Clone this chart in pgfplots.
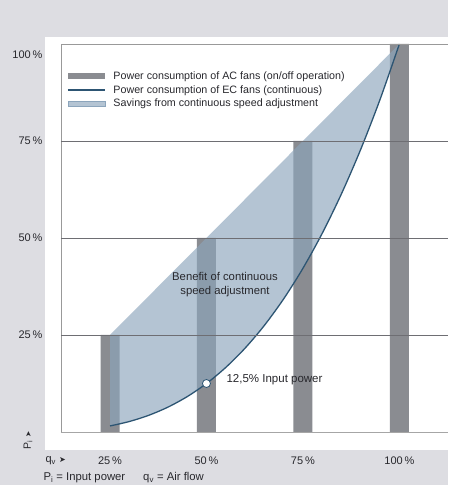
\documentclass[border=0pt]{standalone}
\usepackage{pgfplots}
\pgfplotsset{compat=1.18}
\usepackage{fontspec}
\setmainfont{Liberation Sans}
\newfontfamily\symfont{DejaVu Sans}
\definecolor{bggray}{RGB}{221,221,226}
\definecolor{barcol}{RGB}{138,140,145}
\definecolor{areacol}{RGB}{140,165,188}
\definecolor{curvecol}{RGB}{45,85,115}
\definecolor{gridcol}{RGB}{110,110,115}
\definecolor{txtcol}{RGB}{40,40,45}
\begin{document}
\begin{tikzpicture}[x=1pt,y=1pt]
\fill[bggray] (0,0) rectangle (448,485);
\fill[white] (45,35) rectangle (448,448);
\begin{axis}[
  at={(61pt,53pt)}, anchor=south west,
  scale only axis, width=387pt, height=388pt,
  xmin=12.3, xmax=112.6, ymin=0, ymax=100,
  axis line style={draw=none},
  major tick length=0pt,
  xtick={25,50,75,100},
  xticklabels={25\,\%,50\,\%,75\,\%,100\,\%},
  ytick={25,50,75},
  yticklabels={25\,\%,50\,\%,75\,\%},
  extra y ticks={100},
  extra y tick labels={100\,\%},
  extra y tick style={yticklabel style={yshift=-11pt}, grid=none},
  ymajorgrids, grid style={gridcol, line width=0.6pt},
  yticklabel style={font=\fontsize{11}{12}\selectfont, text=txtcol, xshift=-15pt},
  xticklabel style={font=\fontsize{11}{12}\selectfont, text=txtcol, yshift=-21pt},
  axis on top,
  legend style={at={(rel axis cs:0.013,0.937)}, anchor=north west, draw=none, fill=none,
    font=\fontsize{10.7}{12}\selectfont, text=txtcol, row sep=0.5pt, inner sep=1pt},
  legend cell align=left,
]
\addplot[ybar, bar width=19pt, fill=barcol, draw=none,
  legend image code/.code={\fill[barcol] (0pt,-2.8pt) rectangle (37pt,2.8pt);\path (43pt,0pt);}]
  coordinates {(25,25) (50,50) (75,75) (100,100)};
\addlegendentry{Power consumption of AC fans (on/off operation)}
\addplot[fill=areacol, fill opacity=0.65, draw=none, forget plot]
  coordinates {(25,25) (100,100) (95,85.7375) (90,72.9) (85,61.4125) (80,51.2) (75,42.1875)
   (70,34.3) (65,27.4625) (60,21.6) (55,16.6375) (50,12.5) (45,9.1125) (40,6.4) (35,4.2875)
   (30,2.7) (25,1.5625)} -- cycle;
\addplot[curvecol, line width=1.3pt, smooth,
  legend image code/.code={\draw[curvecol, line width=1.2pt] (0pt,0pt) -- (37pt,0pt);\path (43pt,0pt);}]
  coordinates {(25,1.5625) (30,2.7) (35,4.2875) (40,6.4) (45,9.1125) (50,12.5) (55,16.6375)
   (60,21.6) (65,27.4625) (70,34.3) (75,42.1875) (80,51.2) (85,61.4125) (90,72.9)
   (95,85.7375) (100,100)};
\addlegendentry{Power consumption of EC fans (continuous)}
\addlegendimage{legend image code/.code={\fill[areacol, fill opacity=0.65] (0pt,-2.8pt) rectangle (37pt,2.8pt);\path (43pt,0pt);}}
\addlegendentry{Savings from continuous speed adjustment}
\addplot[only marks, mark=*, mark size=4pt, mark options={fill=white, draw=curvecol, line width=0.8pt}]
  coordinates {(50,12.5)};
\node[font=\fontsize{11.3}{14}\selectfont, text=txtcol, align=center] at (axis cs:54.8,38.0)
  {Benefit of continuous\\speed adjustment};
\node[font=\fontsize{11.5}{13}\selectfont, text=txtcol, anchor=west] at (axis cs:54.3,13.4)
  {12,5\% Input power};
\draw[gray!80, line width=0.6pt] (rel axis cs:0,0) -- (rel axis cs:0,1) -- (rel axis cs:1,1);
\draw[gray!70, line width=1pt] (rel axis cs:0,0) -- (rel axis cs:1,0);
\end{axis}
\node[rotate=90, font=\fontsize{10.5}{11}\selectfont, text=txtcol] at (28,45)
  {P\textsubscript{i} {\symfont\fontsize{7.5}{8}\selectfont ➤}};
\node[font=\fontsize{11}{12}\selectfont, text=txtcol, anchor=west] at (42,24)
  {q\textsubscript{v} {\symfont\fontsize{8}{8}\selectfont ➤}};
\node[font=\fontsize{11.3}{12}\selectfont, text=txtcol, anchor=west] at (40,7)
  {P\textsubscript{i} = Input power\hspace{18pt}q\textsubscript{v} = Air flow};
\pgfresetboundingbox
\useasboundingbox (0,0) rectangle (448,485);
\end{tikzpicture}
\end{document}
